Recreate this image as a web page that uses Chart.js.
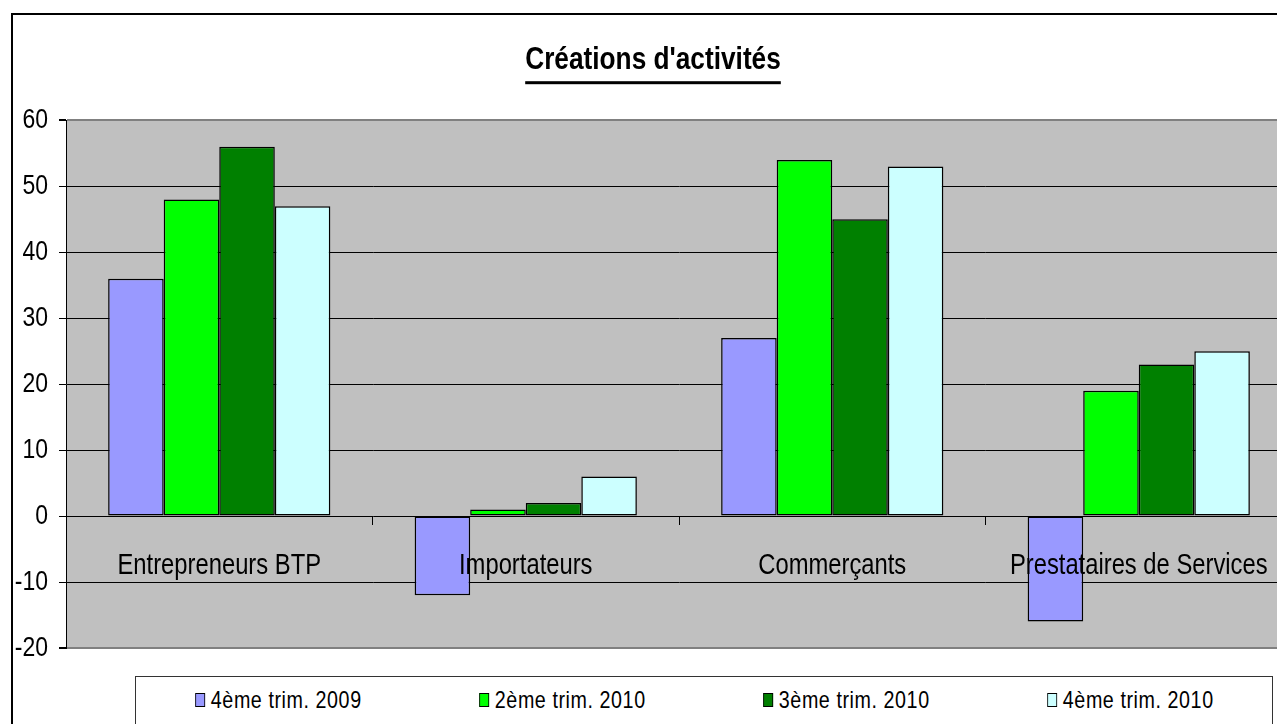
<!DOCTYPE html>
<html>
<head>
<meta charset="utf-8">
<script src="https://cdn.jsdelivr.net/npm/chart.js@4.4.1/dist/chart.umd.min.js"></script>
<style>
    body {
        margin: 0;
        overflow: hidden;
        background: #ffffff;
    }
    #frame {
        position: absolute;
        left: 11px;
        top: 13px;
        width: 1400px;
        height: 800px;
        border: 2px solid #000000;
    }
    #chartCanvas {
        position: absolute;
        left: 0;
        top: 0;
    }
    #legend {
        position: absolute;
        left: 135px;
        top: 676px;
        width: 1136px;
        height: 100px;
        border: 1.5px solid #333333;
        background: #ffffff;
        display: flex;
        font-family: "Liberation Sans", Arial, sans-serif;
        font-size: 24px;
        letter-spacing: 0.7px;
    }
    .legend-item {
        flex: 1;
        display: flex;
        justify-content: center;
        align-items: center;
        height: 46px;
    }
    /* the original uses a narrow face, squeeze the regular one */
    .legend-inner {
        display: flex;
        align-items: center;
        transform: scaleX(0.82);
        transform-origin: center;
        white-space: nowrap;
    }
    .legend-box {
        width: 10px;
        height: 12px;
        border: 1.5px solid #000000;
        margin-right: 7px;
    }
</style>
</head>
<body>
<div id="frame"></div>
<canvas id="chartCanvas" width="1310" height="724"></canvas>
<div id="legend"></div>
<script>
const categories = ["Entrepreneurs BTP", "Importateurs", "Commerçants", "Prestataires de Services"];
const seriesNames = ["4ème trim. 2009", "2ème trim. 2010", "3ème trim. 2010", "4ème trim. 2010"];

const trim4of2009 = [36, -12, 27, -16];
const trim2of2010 = [48, 1, 54, 19];
const trim3of2010 = [56, 2, 45, 23];
const trim4of2010 = [47, 6, 53, 25];

const yMin = -20;
const yMax = 60;
const yStep = 10;

const fontFamily = '"Liberation Sans", Arial, sans-serif';
const narrow = 0.82;

const seriesColors = ["#9999FF", "#00FF00", "#008000", "#CCFFFF"];

// no narrow font installed: squeeze canvas text horizontally
function condenseText(ctx, sx) {
    const fill = ctx.fillText.bind(ctx);
    const measure = ctx.measureText.bind(ctx);

    ctx.fillText = function (text, x, y, maxWidth) {
        ctx.save();
        ctx.translate(x, y);
        ctx.scale(sx, 1);
        if (maxWidth === undefined || maxWidth === null) {
            fill(text, 0, 0);
        } else {
            fill(text, 0, 0, maxWidth / sx);
        }
        ctx.restore();
    };

    ctx.measureText = function (text) {
        const m = measure(text);
        return {
            width: m.width * sx,
            actualBoundingBoxAscent: m.actualBoundingBoxAscent,
            actualBoundingBoxDescent: m.actualBoundingBoxDescent,
            actualBoundingBoxLeft: m.actualBoundingBoxLeft * sx,
            actualBoundingBoxRight: m.actualBoundingBoxRight * sx,
            fontBoundingBoxAscent: m.fontBoundingBoxAscent,
            fontBoundingBoxDescent: m.fontBoundingBoxDescent
        };
    };
}

const canvas = document.getElementById("chartCanvas");
condenseText(canvas.getContext("2d"), narrow);

// grey plot area like the old spreadsheet chart
const plotBackground = {
    id: "plotBackground",
    beforeDraw(chart) {
        const area = chart.chartArea;
        const ctx = chart.ctx;
        ctx.save();
        ctx.fillStyle = "#C0C0C0";
        ctx.fillRect(area.left, area.top, area.right - area.left, area.bottom - area.top);
        ctx.restore();
    }
};

// underline under the title text
const titleUnderline = {
    id: "titleUnderline",
    afterDraw(chart) {
        const block = chart.titleBlock;
        const ctx = chart.ctx;
        const text = chart.options.plugins.title.text;
        ctx.save();
        ctx.font = "bold 32px " + fontFamily;
        const w = ctx.measureText(text).width;
        const cx = (block.left + block.right) / 2;
        const cy = (block.top + block.bottom) / 2;
        ctx.fillStyle = "#000000";
        ctx.fillRect(cx - w / 2, cy + 21, w, 3);
        ctx.restore();
    }
};

// legend as html, built from the chart's own legend items
const htmlLegend = {
    id: "htmlLegend",
    afterUpdate(chart) {
        const holder = document.getElementById("legend");
        holder.innerHTML = "";

        const items =
            chart.options.plugins.legend.labels.generateLabels(chart);

        items.forEach(item => {
            const row = document.createElement("div");
            row.className = "legend-item";

            const inner = document.createElement("div");
            inner.className = "legend-inner";

            const box = document.createElement("span");
            box.className = "legend-box";
            box.style.background = item.fillStyle;

            const label = document.createElement("span");
            label.textContent = item.text;

            inner.appendChild(box);
            inner.appendChild(label);
            row.appendChild(inner);
            holder.appendChild(row);
        });
    }
};

const datasetValues = [trim4of2009, trim2of2010, trim3of2010, trim4of2010];

const chart = new Chart(
    canvas,
    {
        type: "bar",
        data: {
            labels: categories,
            datasets: datasetValues.map((values, i) => ({
                label: seriesNames[i],
                data: values,
                backgroundColor: seriesColors[i],
                borderColor: "#000000",
                borderWidth: 1.5,
                borderSkipped: false,
                categoryPercentage: 0.725,
                barPercentage: 1.0
            }))
        },
        options: {
            responsive: false,
            animation: false,
            layout: {
                padding: { left: 14, right: 18, top: 0, bottom: 76 }
            },
            plugins: {
                legend: { display: false },
                tooltip: { enabled: false },
                title: {
                    display: true,
                    text: "Créations d'activités",
                    color: "#000000",
                    font: { family: fontFamily, size: 32, weight: "bold", lineHeight: 1.2 },
                    padding: { top: 41, bottom: 41 }
                }
            },
            scales: {
                x: {
                    position: { y: 0 },
                    afterFit(scale) {
                        scale.paddingLeft = 0;
                        scale.paddingRight = 0;
                    },
                    grid: {
                        offset: true,
                        drawOnChartArea: false,
                        drawTicks: true,
                        tickLength: 9,
                        color: "#000000",
                        lineWidth: 1
                    },
                    border: { display: false },
                    ticks: {
                        z: 1,
                        color: "#000000",
                        font: { family: fontFamily, size: 29 },
                        padding: 23,
                        maxRotation: 0,
                        autoSkip: false
                    }
                },
                y: {
                    min: yMin,
                    max: yMax,
                    afterFit(scale) {
                        scale.width = 52;
                    },
                    grid: {
                        color: ctx => (ctx.tick && (ctx.tick.value === yMax || ctx.tick.value === yMin)) ? "#808080" : "#000000",
                        lineWidth: ctx => (ctx.tick && (ctx.tick.value === yMax || ctx.tick.value === yMin)) ? 2 : 1,
                        tickColor: "#000000",
                        tickLength: 7
                    },
                    border: { display: true, color: "#000000", width: 1 },
                    ticks: {
                        stepSize: yStep,
                        color: "#000000",
                        font: { family: fontFamily, size: 28 },
                        padding: 11
                    }
                }
            }
        },
        plugins: [plotBackground, titleUnderline, htmlLegend]
    }
);
</script>
</body>
</html>
